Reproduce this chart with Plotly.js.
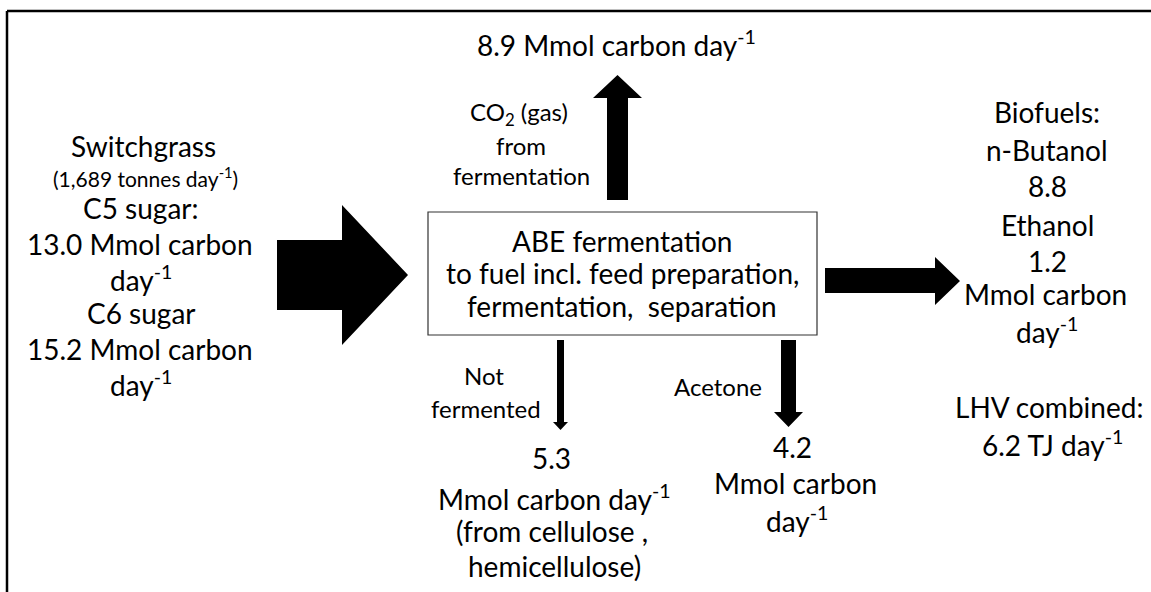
<!DOCTYPE html>
<html>
<head>
<meta charset="utf-8">
<script src="https://cdn.plot.ly/plotly-3.0.1.min.js"></script>
<style>html,body{margin:0;padding:0;background:#fff;}#chart{width:1151px;height:592px;}</style>
</head>
<body>
<div id="chart"></div>
<script>
// ---- data ----
const feedstockName = ['Switchgrass'];
const feedstockTonnesPerDay = [1689];
const sugarNames = ['C5 sugar:', 'C6 sugar'];
const sugarCarbon = [13.0, 15.2];            // Mmol carbon day-1
const co2Carbon = [8.9];                      // Mmol carbon day-1
const notFermentedCarbon = [5.3];             // Mmol carbon day-1
const acetoneCarbon = [4.2];                  // Mmol carbon day-1
const fuelNames = ['n-Butanol', 'Ethanol'];
const fuelCarbon = [8.8, 1.2];                // Mmol carbon day-1
const lhvCombined = [6.2];                    // TJ day-1
const processLines = ['ABE fermentation', 'to fuel incl. feed preparation,', 'fermentation,  separation'];

// ---- drawing ----
const FONT = 'Lato, "Open Sans", sans-serif';
const BIG = 28, MID = 24, SMALL = 21;
const perDay = 'day<sup>-1</sup>';
const f1 = v => v.toFixed(1);

const ann = [];
function txt(t, x, y, size) {
  ann.push({text: t, x: x, y: y, xref: 'x', yref: 'y', showarrow: false,
            xanchor: 'center', yanchor: 'middle',
            font: {family: FONT, size: size || BIG, color: '#000'}});
}

// Left block
txt(feedstockName[0], 143, 146);
txt('(' + feedstockTonnesPerDay[0].toLocaleString('en-US') + ' tonnes ' + perDay + ')', 145, 177, SMALL);
txt(sugarNames[0], 141, 208);
txt(f1(sugarCarbon[0]) + ' Mmol carbon', 140, 244);
txt(perDay, 141, 278);
txt(sugarNames[1], 141, 313);
txt(f1(sugarCarbon[1]) + ' Mmol carbon', 140, 349);
txt(perDay, 141, 383);

// Top
txt(f1(co2Carbon[0]) + ' Mmol carbon ' + perDay, 616, 43);
txt('CO<sub>2</sub> (gas)', 519, 113, MID);
txt('from', 521, 145, MID);
txt('fermentation', 521, 175, MID);

// Process box text
txt(processLines[0], 622, 241);
txt(processLines[1], 622, 273);
txt(processLines[2], 622, 306);

// Not fermented
txt('Not', 484, 375, MID);
txt('fermented', 486, 408, MID);
txt(f1(notFermentedCarbon[0]), 551, 458);
txt('Mmol carbon ' + perDay, 554, 497);
txt('(from cellulose ,', 552, 531);
txt('hemicellulose)', 554, 566);

// Acetone
txt('Acetone', 718, 386, MID);
txt(f1(acetoneCarbon[0]), 792, 447);
txt('Mmol carbon', 795, 483);
txt(perDay, 797, 519);

// Right block
const RX = 1047;
txt('Biofuels:', RX, 112);
txt(fuelNames[0], RX, 150);
txt(f1(fuelCarbon[0]), RX, 186);
txt(fuelNames[1], RX, 225);
txt(f1(fuelCarbon[1]), RX, 261);
txt('Mmol carbon', 1045, 294);
txt(perDay, RX, 330);
txt('LHV combined:', 1049, 407);
txt(f1(lhvCombined[0]) + ' TJ ' + perDay, 1052, 443);

// Shapes
const black = {type: 'path', xref: 'x', yref: 'y', fillcolor: '#000', line: {width: 0}};
const shapes = [
  // outer frame (top and left edges)
  {type: 'line', xref: 'x', yref: 'y', x0: 7, y0: 11, x1: 1160, y1: 11, line: {color: '#000', width: 2.5}},
  {type: 'line', xref: 'x', yref: 'y', x0: 7, y0: 11, x1: 7, y1: 600, line: {color: '#000', width: 2.5}},
  // process box
  {type: 'rect', xref: 'x', yref: 'y', x0: 428, y0: 212, x1: 817, y1: 335, line: {color: '#333', width: 1.2}, fillcolor: 'rgba(0,0,0,0)'},
  // big input arrow
  Object.assign({}, black, {path: 'M277,240 L342,240 L342,205 L408,275 L342,345 L342,310 L277,310 Z'}),
  // CO2 up arrow
  Object.assign({}, black, {path: 'M607,200 L607,98 L593,98 L617.5,75 L642,98 L628,98 L628,200 Z'}),
  // biofuel right arrow
  Object.assign({}, black, {path: 'M825,268 L935,268 L935,257 L960,281 L935,305 L935,293 L825,293 Z'}),
  // not fermented thin arrow
  Object.assign({}, black, {path: 'M557,340 L564,340 L564,422 L568,422 L560.5,430 L553,422 L557,422 Z'}),
  // acetone arrow
  Object.assign({}, black, {path: 'M781,340 L796,340 L796,412 L803,412 L788.5,427 L774,412 L781,412 Z'})
];

const layout = {
  width: 1151, height: 592,
  margin: {l: 0, r: 0, t: 0, b: 0, pad: 0},
  paper_bgcolor: '#fff', plot_bgcolor: '#fff',
  showlegend: false,
  xaxis: {range: [0, 1151], visible: false, fixedrange: true},
  yaxis: {range: [592, 0], visible: false, fixedrange: true},
  annotations: ann,
  shapes: shapes
};

Plotly.newPlot('chart', [{x: [], y: [], type: 'scatter', mode: 'markers', hoverinfo: 'skip'}], layout, {staticPlot: true, displayModeBar: false});
</script>
</body>
</html>
